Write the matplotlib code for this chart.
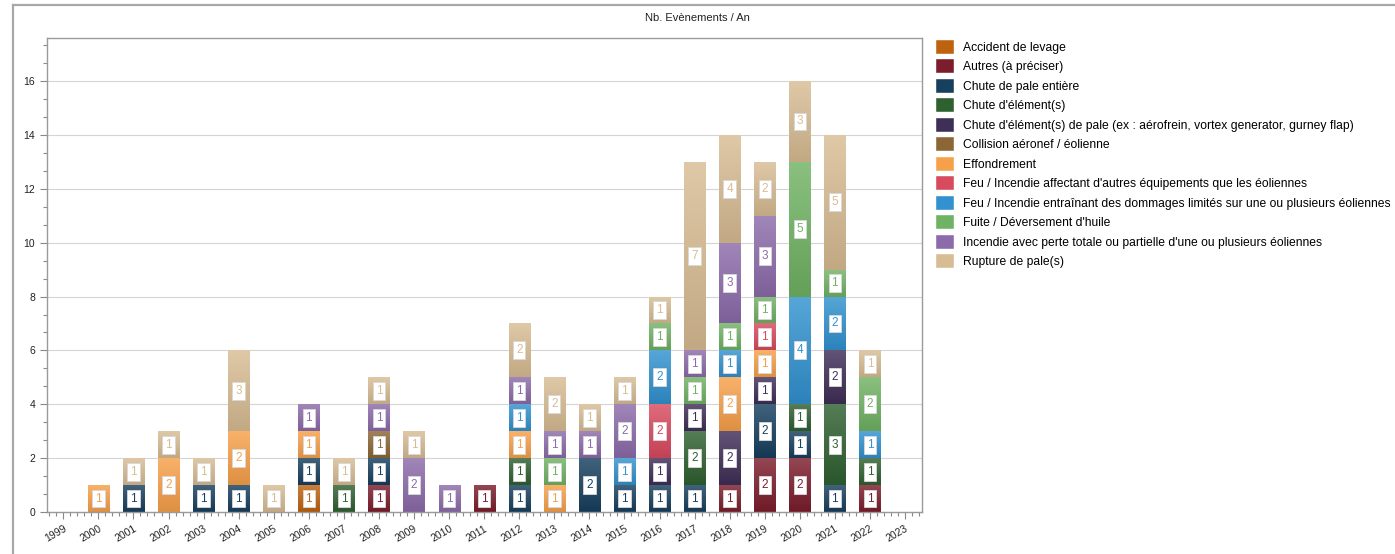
import matplotlib
matplotlib.use("Agg")
import matplotlib.pyplot as plt
import numpy as np
from matplotlib.ticker import MultipleLocator, AutoMinorLocator
from matplotlib.lines import Line2D
from matplotlib.colors import to_rgb

plt.rcParams['font.family'] = ['Liberation Sans', 'DejaVu Sans']

# data
years = list(range(1999, 2024))

categories = [
    "Accident de levage",
    "Autres (à préciser)",
    "Chute de pale entière",
    "Chute d'élément(s)",
    "Chute d'élément(s) de pale (ex : aérofrein, vortex generator, gurney flap)",
    "Collision aéronef / éolienne",
    "Effondrement",
    "Feu / Incendie affectant d'autres équipements que les éoliennes",
    "Feu / Incendie entraînant des dommages limités sur une ou plusieurs éoliennes",
    "Fuite / Déversement d'huile",
    "Incendie avec perte totale ou partielle d'une ou plusieurs éoliennes",
    "Rupture de pale(s)",
]

colors = ["#BF620E", "#7C1D2C", "#173F5E", "#2F6030", "#3F2E57", "#8C6636",
          "#F7A04A", "#D84A5E", "#3192CF", "#70B263", "#8C6BAA", "#D8BC93"]

#                     1999 .. 2023
accident_levage =    [0,0,0,0,0,0,0,1,0,0,0,0,0,0,0,0,0,0,0,0,0,0,0,0,0]
autres =             [0,0,0,0,0,0,0,0,0,1,0,0,1,0,0,0,0,0,0,1,2,2,0,1,0]
chute_pale =         [0,0,1,0,1,1,0,1,0,1,0,0,0,1,0,2,1,1,1,0,2,1,1,0,0]
chute_element =      [0,0,0,0,0,0,0,0,1,0,0,0,0,1,0,0,0,0,2,0,0,1,3,1,0]
chute_elem_pale =    [0,0,0,0,0,0,0,0,0,0,0,0,0,0,0,0,0,1,1,2,1,0,2,0,0]
collision =          [0,0,0,0,0,0,0,0,0,1,0,0,0,0,0,0,0,0,0,0,0,0,0,0,0]
effondrement =       [0,1,0,2,0,2,0,1,0,0,0,0,0,1,1,0,0,0,0,2,1,0,0,0,0]
feu_autres =         [0,0,0,0,0,0,0,0,0,0,0,0,0,0,0,0,0,2,0,0,1,0,0,0,0]
feu_limites =        [0,0,0,0,0,0,0,0,0,0,0,0,0,1,0,0,1,2,0,1,0,4,2,1,0]
fuite_huile =        [0,0,0,0,0,0,0,0,0,0,0,0,0,0,1,0,0,1,1,1,1,5,1,2,0]
incendie_perte =     [0,0,0,0,0,0,0,1,0,1,2,1,0,1,1,1,2,0,1,3,3,0,0,0,0]
rupture_pale =       [0,0,1,1,1,3,1,0,1,1,1,0,0,2,2,1,1,1,7,4,2,3,5,1,0]

series = [accident_levage, autres, chute_pale, chute_element, chute_elem_pale,
          collision, effondrement, feu_autres, feu_limites, fuite_huile,
          incendie_perte, rupture_pale]


def gradient_fill(ax, patch, col):
    # light at the top, a bit darker at the bottom, clipped to the bar
    c = np.array(to_rgb(col))
    top = c + (1 - c) * 0.18
    bot = c * 0.9
    t = np.linspace(0, 1, 32)[:, None]
    img = (bot[None, :] * (1 - t) + top[None, :] * t)[:, None, :]
    x0, y0 = patch.get_x(), patch.get_y()
    w, h = patch.get_width(), patch.get_height()
    im = ax.imshow(img, extent=(x0, x0 + w, y0, y0 + h), origin="lower",
                   aspect="auto", zorder=2.5, interpolation="bilinear")
    im.set_clip_path(patch)


W, H = 1395, 554
fig = plt.figure(figsize=(W / 100, H / 100), dpi=100)
ax = fig.add_axes([47 / W, 1 - 512 / H, (922 - 47) / W, (512 - 38) / H])

bottom = np.zeros(len(years))
for vals, col, name in zip(series, colors, categories):
    vals = np.array(vals, dtype=float)
    bars = ax.bar(years, vals, width=0.6, bottom=bottom, color=col,
                  edgecolor="#ffffff", linewidth=0.3, label=name, zorder=2)
    for p, v in zip(bars, vals):
        if v > 0:
            gradient_fill(ax, p, col)
    for x, v, b in zip(years, vals, bottom):
        if v > 0:
            ax.text(x, b + v / 2, f"{int(v)}", ha="center", va="center",
                    fontsize=8.5, color=col, zorder=4,
                    bbox=dict(boxstyle="square,pad=0.25", fc="white",
                              ec="#d8d8d8", lw=0.6))
    bottom += vals

ax.set_xlim(1998.535, 2023.485)
ax.set_ylim(0, 17.6)
ax.set_xticks(years)
ax.set_xticklabels([str(y) for y in years], rotation=30, ha="right",
                   rotation_mode="anchor", fontsize=7.5, color="#222222")
ax.xaxis.set_minor_locator(AutoMinorLocator(5))
ax.yaxis.set_major_locator(MultipleLocator(2))
ax.yaxis.set_minor_locator(AutoMinorLocator(3))
ax.tick_params(axis="y", labelsize=7.5, labelcolor="#222222")
ax.tick_params(which="major", length=5, color="#888888", width=0.8)
ax.tick_params(which="minor", length=3, color="#888888", width=0.8)
ax.grid(axis="y", color="#d4d4d4", linewidth=0.8, zorder=0)
ax.set_axisbelow(True)
for s in ax.spines.values():
    s.set_color("#9a9a9a")
    s.set_linewidth(1.0)

# title
fig.text(697 / W, 1 - 18 / H, "Nb. Evènements / An", ha="center", va="center",
         fontsize=8, color="#222222")

# outer frame lines
fig.add_artist(Line2D([13 / W, 1], [1 - 5 / H, 1 - 5 / H], color="#a8a8a8", lw=1.6,
                      transform=fig.transFigure))
fig.add_artist(Line2D([13 / W, 13 / W], [0, 1 - 5 / H], color="#a8a8a8", lw=1.6,
                      transform=fig.transFigure))

fig.legend(loc="upper left", bbox_to_anchor=(936 / W, 1 - 40 / H), frameon=False,
           fontsize=8.7, handlelength=1.45, handleheight=1.35, handletextpad=0.75,
           labelspacing=0.47, borderpad=0, borderaxespad=0)

fig.savefig("out.png", dpi=100)
